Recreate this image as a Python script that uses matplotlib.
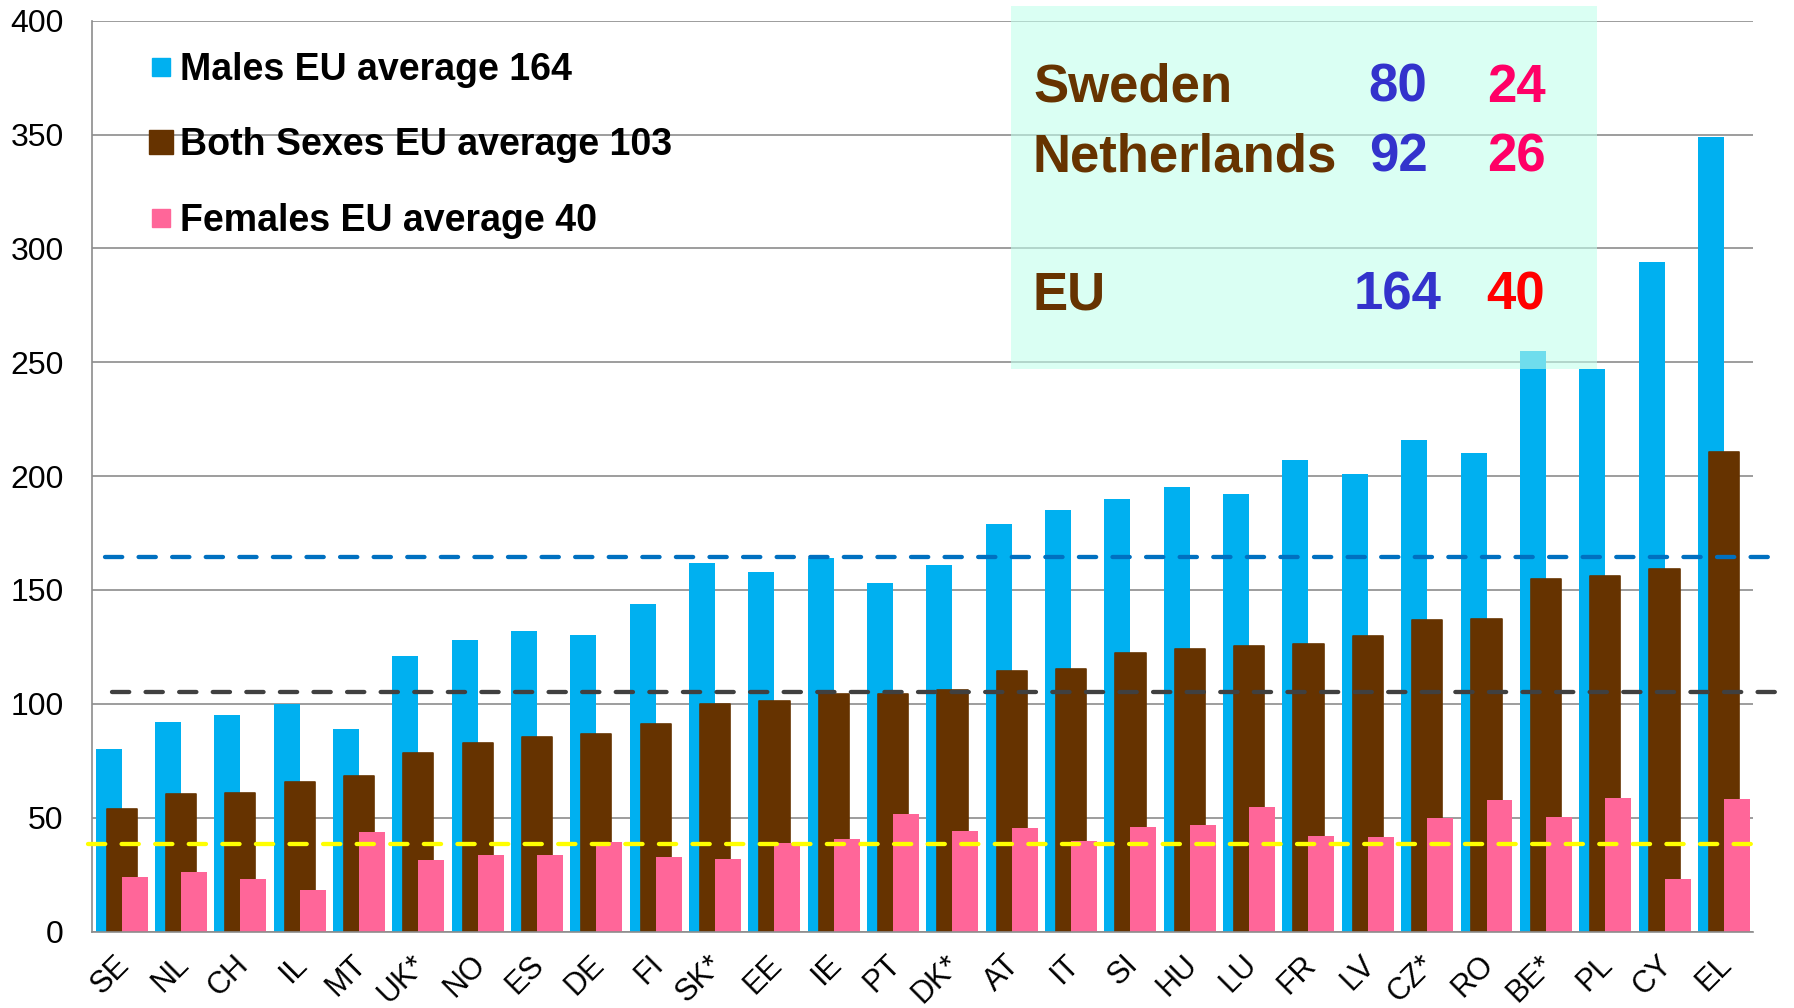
import matplotlib
matplotlib.use("Agg")
import matplotlib.pyplot as plt
from matplotlib.lines import Line2D
from matplotlib.patches import Rectangle
import matplotlib.transforms as mtransforms
import numpy as np

plt.rcParams['font.family'] = ['Liberation Sans', 'DejaVu Sans']

# ---------------- data ----------------
countries = ['SE', 'NL', 'CH', 'IL', 'MT', 'UK*', 'NO', 'ES', 'DE', 'FI', 'SK*', 'EE', 'IE', 'PT',
             'DK*', 'AT', 'IT', 'SI', 'HU', 'LU', 'FR', 'LV', 'CZ*', 'RO', 'BE*', 'PL', 'CY', 'EL']
males = [80, 92, 95, 100, 89, 121, 128, 132, 130, 144, 162, 158, 164, 153,
         161, 179, 185, 190, 195, 192, 207, 201, 216, 210, 255, 247, 294, 349]
both_sexes = [54, 60.5, 61, 65.7, 68.2, 78.2, 82.9, 85.5, 86.7, 91.2, 99.7, 101.2, 104.1, 104.5,
              105.9, 114.2, 115.2, 122.3, 123.9, 125.6, 126.4, 129.9, 137, 137.1, 154.8, 156, 159.1, 210.8]
females = [24, 26, 23.1, 18.4, 43.6, 31.2, 33.5, 33.7, 39.1, 32.8, 31.9, 38.9, 40.7, 51.7,
           44.2, 45.5, 39.8, 45.8, 46.6, 54.5, 41.9, 41.6, 49.9, 57.7, 50.4, 58.6, 23.0, 58.4]

legend_labels = ['Males EU average 164', 'Both Sexes EU average 103', 'Females EU average 40']
avg_lines = [164.3, 105.3, 38.5]   # dashed reference lines (males, both, females)

box_rows = ['Sweden', 'Netherlands', 'EU']
box_males = ['80', '92', '164']
box_females = ['24', '26', '40']

yticks = [0, 50, 100, 150, 200, 250, 300, 350, 400]

# ---------------- style ----------------
C_BLUE = '#00B0F0'
C_BROWN = '#663300'
C_PINK = '#FF6699'
GRID = '#8C8C8C'

W, H = 1794, 1008
fig = plt.figure(figsize=(W / 100, H / 100), dpi=100)
ax = fig.add_axes([91.5 / W, 1 - 931.5 / H, (1753 - 91.5) / W, (931.5 - 20.7) / H])

x = np.arange(len(countries))
ax.bar(x - 0.21, males, width=0.438, color=C_BLUE, zorder=2)
ax.bar(x + 0.008, both_sexes, width=0.51, color=C_BROWN, edgecolor=C_BROWN,
       linewidth=1.2, joinstyle='round', zorder=3)
ax.bar(x + 0.228, females, width=0.438, color=C_PINK, zorder=4)

ax.set_xlim(-0.5, len(countries) - 0.5)
ax.set_ylim(0, 400)
ax.set_yticks(yticks)
ax.yaxis.grid(True, color=GRID, linewidth=1.2)
ax.set_axisbelow(True)
for s in ['top', 'right']:
    ax.spines[s].set_visible(False)
for s in ['left', 'bottom']:
    ax.spines[s].set_color(GRID)
    ax.spines[s].set_linewidth(1.2)
ax.spines['bottom'].set_zorder(5)

ax.tick_params(axis='y', length=0, labelsize=23, pad=20)
ax.tick_params(axis='x', length=0, labelsize=22, pad=13)
ax.set_xticks(x)
ax.set_xticklabels(countries, rotation=45, ha='right', va='top', rotation_mode='anchor')
offset = mtransforms.ScaledTranslation(-7 / 100, 0, fig.dpi_scale_trans)
for lab in ax.get_xticklabels():
    lab.set_transform(lab.get_transform() + offset)

# dashed average lines (extend beyond the plot area like the original)
ytr = ax.get_yaxis_transform()
line_specs = [
    (avg_lines[0], '#0070C0', 0.008, 1.018),
    (avg_lines[1], '#404040', 0.0123, 1.022),
    (avg_lines[2], '#FFFF00', -0.002, 1.008),
]
for yv, col, x0, x1 in line_specs:
    ax.plot([x0, x1], [yv, yv], transform=ytr, color=col, lw=3.1,
            dashes=(4, 3.8), dash_capstyle='round', clip_on=False, zorder=6)

# legend
handles = [
    Line2D([], [], linestyle='none', marker='s', markersize=13.5, color=C_BLUE),
    Line2D([], [], linestyle='none', marker='s', markersize=17, color=C_BROWN),
    Line2D([], [], linestyle='none', marker='s', markersize=13.5, color=C_PINK),
]
fig.legend(handles, legend_labels, loc='upper left', bbox_to_anchor=(149.7 / W, 1 - 52 / H),
           frameon=False, borderpad=0, borderaxespad=0, handlelength=0.6, handletextpad=0.2,
           labelspacing=1.05, prop={'size': 27, 'weight': 'bold'})

# translucent info box
box = Rectangle((1011 / W, 1 - 369 / H), 586 / W, 363 / H, transform=fig.transFigure,
                facecolor=(192 / 255, 1.0, 236 / 255), alpha=0.58, edgecolor='none', zorder=5)
fig.patches.append(box)

row_base = [101.7, 171, 309]
for name, m, f, yb in zip(box_rows, box_males, box_females, row_base):
    yy = 1 - yb / H
    fig.text(1033 / W, yy, name, color=C_BROWN, fontsize=38, fontweight='bold',
             ha='left', va='baseline', zorder=6)
    fig.text(1398 / W, yy, m, color='#3333CC', fontsize=38, fontweight='bold',
             ha='center', va='baseline', zorder=6)
    fig.text(1516 / W, yy, f, color='#FF0000' if name == 'EU' else '#FF0066', fontsize=38,
             fontweight='bold', ha='center', va='baseline', zorder=6)

fig.savefig('out.png', dpi=100)
